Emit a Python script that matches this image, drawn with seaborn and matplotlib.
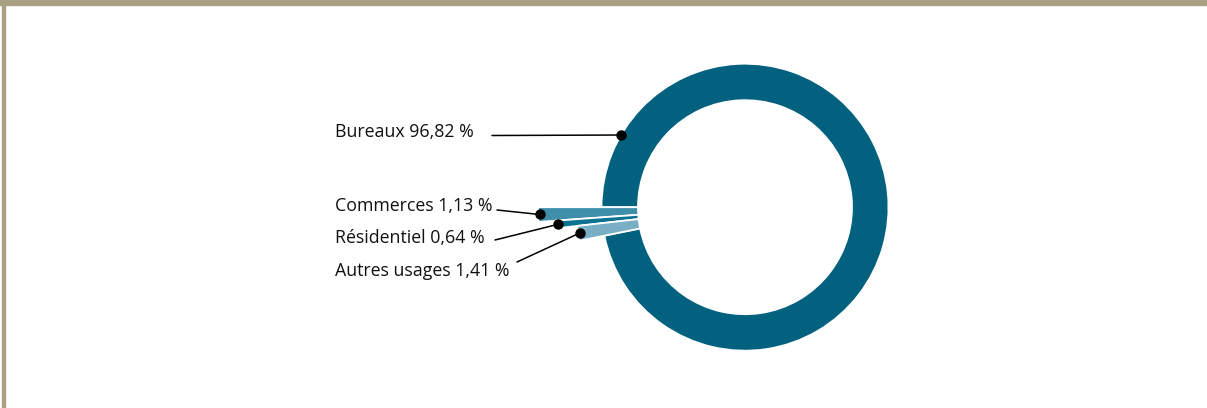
import numpy as np
import matplotlib
matplotlib.use("Agg")
import matplotlib.pyplot as plt
from matplotlib.patches import Rectangle
import seaborn as sns

# ---- data ----
categories = ["Bureaux", "Commerces", "Résidentiel", "Autres usages"]
shares = [96.82, 1.13, 0.64, 1.41]

# ---- style ----
colors = ["#02617f", "#3f8eaa", "#0b7391", "#79afc4"]
outer_radii = [143.5, 207, 189, 169]
inner_radius = 107
W, H = 1207, 408
cx, cy_top = 745, 207.2
cy = H - cy_top

sns.set_theme(style="white")
plt.rcParams["font.family"] = ["Open Sans", "DejaVu Sans"]

fig = plt.figure(figsize=(W / 100, H / 100), dpi=100)
ax = fig.add_axes([0, 0, 1, 1])

total = sum(shares)
start = 180 - 360 * shares[0] / total
wedges, _ = ax.pie(shares, colors=colors, startangle=start, counterclock=True,
                   center=(cx, cy), radius=outer_radii[0],
                   wedgeprops=dict(width=outer_radii[0] - inner_radius,
                                   edgecolor="white", linewidth=1.3))
for w, r in zip(wedges, outer_radii):
    w.set_radius(r)
    w.set_width(r - inner_radius)
wedges[0].set_zorder(1)
for w in wedges[1:]:
    w.set_zorder(2)

ax.set_xlim(0, W)
ax.set_ylim(0, H)
ax.set_aspect("equal")
ax.axis("off")

# labels and leader lines (pixel coords from top)
label_x = 335
label_y = [132, 206, 238, 271]
line_start = [(492, 135.5), (497, 210), (495, 240), (517, 262)]
bureaux_dot_angle = 149.8

for i, (cat, val) in enumerate(zip(categories, shares)):
    txt = f"{cat} {val:.2f} %".replace(".", ",")
    ax.text(label_x, H - label_y[i], txt, fontsize=12.8, color="#111111",
            ha="left", va="center")
    if i == 0:
        ang = np.deg2rad(bureaux_dot_angle)
        r = outer_radii[0]
    else:
        w = wedges[i]
        ang = np.deg2rad((w.theta1 + w.theta2) / 2)
        r = outer_radii[i] - 1.5
    dx, dy = cx + r * np.cos(ang), cy + r * np.sin(ang)
    sx, sy = line_start[i]
    ax.plot([sx, dx], [H - sy, dy], color="black", lw=1.1, zorder=3)
    ax.plot([dx], [dy], "o", color="black", markersize=6.5, zorder=4)

# frame decorations
ax.add_patch(Rectangle((0, H - 4.5), W, 4.5, color="#aaa083", clip_on=False, zorder=5))
ax.add_patch(Rectangle((2, 0), 3, H, color="#aaa083", clip_on=False, zorder=5))

fig.savefig("out.png", dpi=100, facecolor="white")
